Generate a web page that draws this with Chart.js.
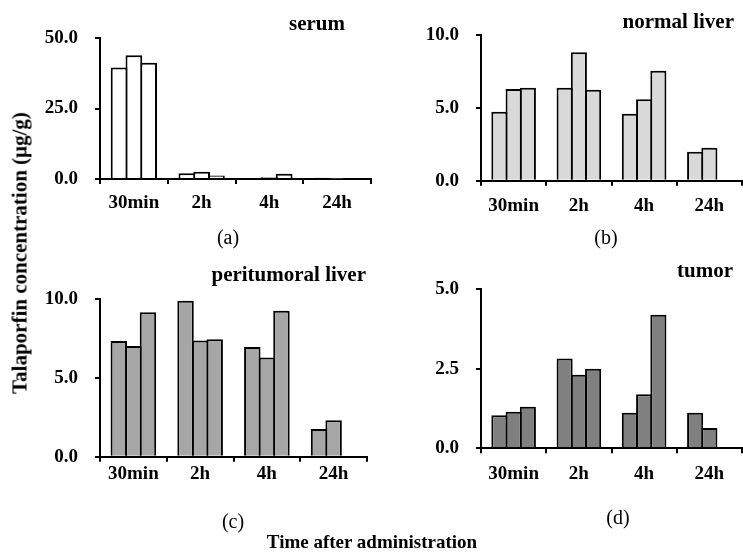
<!DOCTYPE html>
<html>
<head>
<meta charset="utf-8">
<script src="https://cdn.jsdelivr.net/npm/chart.js@4/dist/chart.umd.min.js"></script>
<style>
  body { margin: 0; background: #fff; }
  #page { position: relative; width: 743px; height: 553px; overflow: hidden; font-family: "Liberation Serif", "Times New Roman", serif; color: #000; }
  canvas { position: absolute; }
  .lbl { position: absolute; white-space: nowrap; line-height: 1; }
  .b { font-weight: bold; }
</style>
</head>
<body>
<div id="page">
  <canvas id="cA" width="372" height="250" style="left:0;top:0"></canvas>
  <canvas id="cB" width="371" height="250" style="left:372px;top:0"></canvas>
  <canvas id="cC" width="372" height="303" style="left:0;top:250px"></canvas>
  <canvas id="cD" width="371" height="303" style="left:372px;top:250px"></canvas>

  <div class="lbl b" style="right:398px;top:13px;font-size:21px">serum</div>
  <div class="lbl b" style="right:9px;top:11px;font-size:21px">normal liver</div>
  <div class="lbl b" style="right:377px;top:264px;font-size:21px">peritumoral liver</div>
  <div class="lbl b" style="right:10px;top:260px;font-size:21px">tumor</div>

  <div class="lbl" style="left:228px;top:237px;font-size:20px;transform:translate(-50%,-50%)">(a)</div>
  <div class="lbl" style="left:606px;top:237px;font-size:20px;transform:translate(-50%,-50%)">(b)</div>
  <div class="lbl" style="left:233px;top:521px;font-size:20px;transform:translate(-50%,-50%)">(c)</div>
  <div class="lbl" style="left:618px;top:517px;font-size:20px;transform:translate(-50%,-50%)">(d)</div>

  <div class="lbl b" style="left:20px;top:253px;font-size:21px;transform:translate(-50%,-50%) rotate(-90deg)">Talaporfin concentration (μg/g)</div>
  <div class="lbl b" style="left:372px;top:541px;font-size:19px;transform:translate(-50%,-50%)">Time after administration</div>
</div>
<script>
// time points
const categories = ['30min', '2h', '4h', '24h'];

// serum
const serumR1 = [39.5, 2.0, 0.3, 0.4];
const serumR2 = [43.9, 2.6, 0.6, 0.1];
const serumR3 = [41.2, 1.2, 1.9, null];

// normal liver
const normalR1 = [4.74, 6.38, 4.60, 1.99];
const normalR2 = [6.29, 8.81, 5.59, 2.26];
const normalR3 = [6.38, 6.25, 7.55, null];

// peritumoral liver
const periR1 = [7.35, 9.91, 6.97, 1.76];
const periR2 = [7.03, 7.39, 6.31, 2.31];
const periR3 = [9.17, 7.46, 9.28, null];

// tumor
const tumorR1 = [1.04, 2.82, 1.12, 1.12];
const tumorR2 = [1.15, 2.31, 1.70, 0.64];
const tumorR3 = [1.31, 2.50, 4.20, null];

const FONT = '"Liberation Serif", "Times New Roman", serif';

function makePanel(id, series, color, yMax, yStep, box) {
    return new Chart(document.getElementById(id), {
        type: 'bar',
        data: {
            labels: categories,
            datasets: series.map(s => ({
                data: s,
                backgroundColor: color,
                borderColor: '#000',
                borderWidth: 2,
                barPercentage: 1.13,
                categoryPercentage: 0.655
            }))
        },
        options: {
            responsive: false,
            animation: false,
            devicePixelRatio: 1,
            layout: { padding: { left: 0, right: box.right, top: box.top, bottom: 0 } },
            plugins: { legend: { display: false }, tooltip: { enabled: false } },
            scales: {
                x: {
                    grid: { offset: true, drawOnChartArea: false, tickLength: 5, color: '#000', lineWidth: 2 },
                    border: { color: '#000', width: 2 },
                    ticks: { color: '#000', padding: box.xPad, maxRotation: 0, autoSkip: false,
                             font: { family: FONT, size: 19, weight: 'bold' } },
                    afterFit: s => { s.height = box.xHeight; }
                },
                y: {
                    min: 0,
                    max: yMax,
                    grid: { drawOnChartArea: false, tickLength: 5, color: '#000', lineWidth: 2 },
                    border: { color: '#000', width: 2 },
                    ticks: { color: '#000', stepSize: yStep, padding: 17,
                             font: { family: FONT, size: 19, weight: 'bold' },
                             callback: v => v.toFixed(1) },
                    afterFit: s => { s.width = box.yWidth; }
                }
            }
        }
    });
}

makePanel('cA', [serumR1, serumR2, serumR3], '#ffffff', 50, 25,
    { right: 1, top: 38, yWidth: 100, xHeight: 71, xPad: 8 });
makePanel('cB', [normalR1, normalR2, normalR3], '#d9d9d9', 10, 5,
    { right: 1, top: 35, yWidth: 109, xHeight: 69.3, xPad: 8.5 });
makePanel('cC', [periR1, periR2, periR3], '#a6a6a6', 10, 5,
    { right: 5, top: 49.3, yWidth: 100, xHeight: 96.3, xPad: 1 });
makePanel('cD', [tumorR1, tumorR2, tumorR3], '#808080', 5, 2.5,
    { right: 1, top: 39.3, yWidth: 109, xHeight: 104.7, xPad: 9 });
</script>
</body>
</html>
